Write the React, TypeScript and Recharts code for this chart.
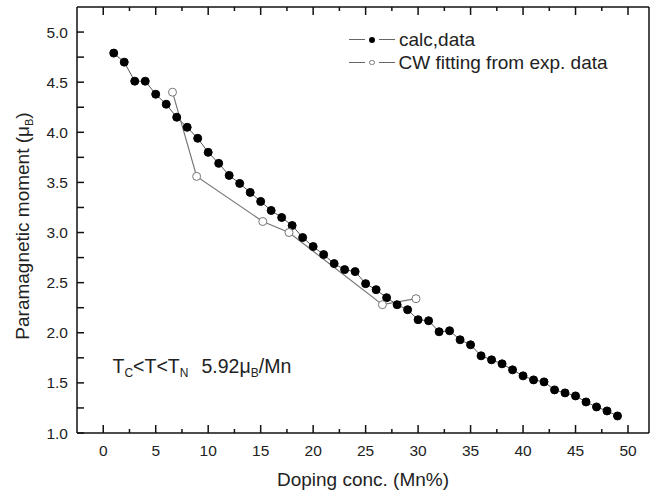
import { LineChart, Line, XAxis, YAxis, Legend, ReferenceLine } from 'recharts'

// calc data, one point per at.% Mn
const calcX = [1, 2, 3, 4, 5, 6, 7, 8, 9, 10, 11, 12, 13, 14, 15, 16, 17, 18, 19, 20, 21, 22, 23, 24, 25,
  26, 27, 28, 29, 30, 31, 32, 33, 34, 35, 36, 37, 38, 39, 40, 41, 42, 43, 44, 45, 46, 47, 48, 49]
const calcY = [4.79, 4.70, 4.51, 4.51, 4.38, 4.28, 4.15, 4.05, 3.94, 3.80, 3.69, 3.57, 3.49, 3.40, 3.31,
  3.22, 3.15, 3.07, 2.95, 2.86, 2.78, 2.69, 2.63, 2.61, 2.49, 2.43, 2.35, 2.28, 2.23, 2.13, 2.12, 2.01,
  2.02, 1.93, 1.88, 1.77, 1.73, 1.69, 1.63, 1.57, 1.53, 1.51, 1.43, 1.40, 1.37, 1.31, 1.26, 1.22, 1.17]

// Curie-Weiss fit from experiment
const cwX = [6.6, 8.9, 15.2, 17.7, 26.6, 29.8]
const cwY = [4.40, 3.56, 3.11, 3.00, 2.28, 2.34]

const xTicks = [0, 2.5, 5, 7.5, 10, 12.5, 15, 17.5, 20, 22.5, 25, 27.5, 30, 32.5, 35, 37.5, 40, 42.5, 45, 47.5, 50]
const yTicks = [1, 1.25, 1.5, 1.75, 2, 2.25, 2.5, 2.75, 3, 3.25, 3.5, 3.75, 4, 4.25, 4.5, 4.75, 5]
const xDomain = [-2.5, 52]
const yDomain = [1, 5.25]

const calcData = calcX.map((x, i) => ({ x, y: calcY[i] }))
const cwData = cwX.map((x, i) => ({ x, y: cwY[i] }))

const FONT = '"Liberation Sans", Arial, Helvetica, sans-serif'
const AX = '#111'
const W = 657
const H = 497
const M = { top: 7, right: 8, bottom: 0, left: 0 }
const YW = 77
const XH = 64
const PH = H - XH - M.top // plot height

const isMajorX = (v: number) => v % 5 === 0
const isMajorY = (v: number) => Math.abs(v * 2 - Math.round(v * 2)) < 1e-6

// bottom tick + mirrored tick on the top frame
function BottomTick({ x, y, payload }: any) {
  const len = isMajorX(payload.value) ? 8 : 4
  return (
    <g>
      <line x1={x} x2={x} y1={y} y2={y - len} stroke={AX} strokeWidth={1.5} />
      <line x1={x} x2={x} y1={y - PH} y2={y - PH + len} stroke={AX} strokeWidth={1.5} />
      <text x={x} y={y + 23} textAnchor="middle" fontSize={15.5} fill="#222" fontFamily={FONT}>
        {isMajorX(payload.value) ? payload.value : ''}
      </text>
    </g>
  )
}

// axis titles and the T_C<T<T_N note
function Titles() {
  return (
    <g fontFamily={FONT} fill="#222">
      <text x={363} y={486} textAnchor="middle" fontSize={19}>Doping conc. (Mn%)</text>
      <text transform="translate(29 226) rotate(-90)" textAnchor="middle" fontSize={19}>
        Paramagnetic moment (μ<tspan fontSize={11} dy={4}>B</tspan><tspan dy={-4}>)</tspan>
      </text>
      <text x={112.5} y={373} fontSize={19.5}>
        T<tspan fontSize={12} dy={4}>C</tspan><tspan dy={-4}>&lt;T&lt;T</tspan><tspan fontSize={12} dy={4}>N</tspan>
      </text>
      <text x={201.5} y={373} fontSize={19.5}>
        5.92μ<tspan fontSize={12} dy={4}>B</tspan><tspan dy={-4}>/Mn</tspan>
      </text>
    </g>
  )
}

const dash = (w: number) => <span style={{ display: 'inline-block', width: w, height: 0, borderTop: '1.2px solid #666' }} />

function renderLegend() {
  const row = (filled: boolean, label: string) => (
    <div style={{ display: 'flex', alignItems: 'center', height: 23 }}>
      {dash(16)}
      <span style={{
        display: 'inline-block', boxSizing: 'border-box', margin: '0 4px',
        width: filled ? 6 : 5.5, height: filled ? 6 : 5.5, borderRadius: '50%',
        background: filled ? '#000' : '#fff', border: filled ? 'none' : '1px solid #777',
      }} />
      {dash(16)}
      <span style={{ marginLeft: 4, fontSize: 19, color: '#222', fontFamily: FONT, lineHeight: '23px' }}>{label}</span>
    </div>
  )
  return (
    <div>
      {row(true, 'calc,data')}
      {row(false, 'CW fitting from exp. data')}
    </div>
  )
}

export default function App() {
  return (
    <div style={{ position: 'absolute', left: 0, top: 0, width: W, height: H, background: '#fff' }}>
      <LineChart width={W} height={H} data={calcData} margin={M}>
        <XAxis xAxisId="b" dataKey="x" type="number" domain={xDomain} ticks={xTicks} interval={0}
          height={XH} tickSize={0} tickMargin={0} tick={<BottomTick />}
          axisLine={{ stroke: AX, strokeWidth: 1.5 }} label={<Titles />} />
        {/* negative tick size turns the y ticks inward */}
        <YAxis yAxisId="l" type="number" domain={yDomain} ticks={yTicks} interval={0}
          width={YW} tickSize={-7} tickMargin={16}
          tickFormatter={(v: number) => (isMajorY(v) ? v.toFixed(1) : '')}
          tick={{ fontSize: 15.5, fill: '#222', fontFamily: FONT }}
          tickLine={{ stroke: AX, strokeWidth: 1.5 }}
          axisLine={{ stroke: AX, strokeWidth: 1.5 }} />
        <ReferenceLine xAxisId="b" yAxisId="l" y={yDomain[1]} stroke={AX} strokeWidth={1.5} />
        <ReferenceLine xAxisId="b" yAxisId="l" x={xDomain[1]} stroke={AX} strokeWidth={1.5} />
        <Legend layout="horizontal" verticalAlign="middle" content={renderLegend}
          wrapperStyle={{ left: 349, top: 28, width: 300 }} />
        <Line xAxisId="b" yAxisId="l" data={calcData} dataKey="y" name="calc,data" type="linear"
          stroke="#555" strokeWidth={1} isAnimationActive={false}
          dot={{ r: 4, fill: '#000', stroke: '#000', strokeWidth: 1 }} />
        <Line xAxisId="b" yAxisId="l" data={cwData} dataKey="y" name="CW fitting from exp. data" type="linear"
          stroke="#777" strokeWidth={1.2} isAnimationActive={false}
          dot={{ r: 4, fill: '#fff', stroke: '#777', strokeWidth: 1 }} />
      </LineChart>
    </div>
  )
}
